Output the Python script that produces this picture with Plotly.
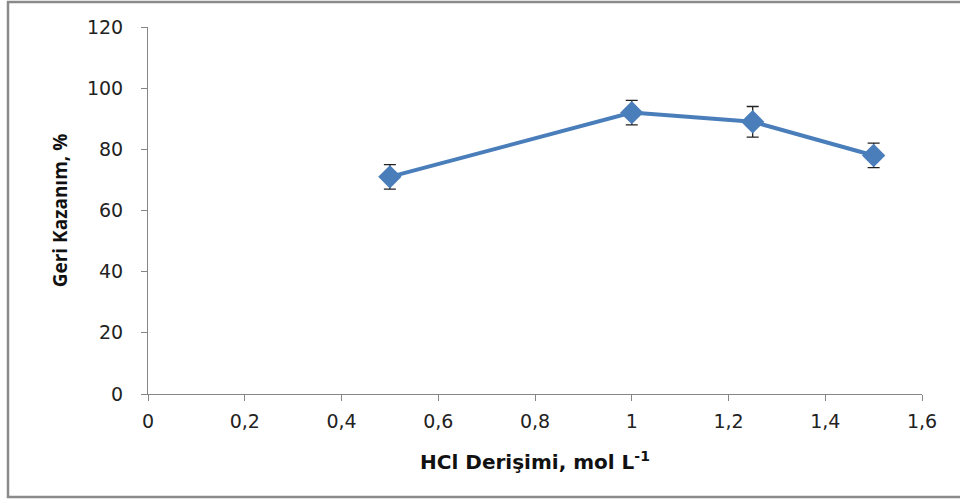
import plotly.graph_objects as go

hcl = [0.5, 1.0, 1.25, 1.5]
recovery = [71, 92, 89, 78]
err = [4, 4, 5, 4]
x_ticks = [0, 0.2, 0.4, 0.6, 0.8, 1.0, 1.2, 1.4, 1.6]
x_labels = ["0", "0,2", "0,4", "0,6", "0,8", "1", "1,2", "1,4", "1,6"]
y_ticks = [0, 20, 40, 60, 80, 100, 120]

L, R, T, B = 148, 38, 27, 110
W, H = 960, 504
pw, ph = W - L - R, H - T - B

fig = go.Figure()
fig.add_trace(go.Scatter(
    x=hcl, y=recovery, mode="lines+markers",
    line=dict(color="#4A7EBB", width=4),
    marker=dict(symbol="diamond", size=18, color="#4A7EBB"),
    error_y=dict(type="data", array=err, visible=True, color="#222222", thickness=1.3, width=6),
    showlegend=False,
))

axis_font = dict(family="DejaVu Sans", size=19, color="#222222")
fig.update_layout(
    width=W, height=H,
    margin=dict(l=L, r=R, t=T, b=B),
    paper_bgcolor="white", plot_bgcolor="white",
    xaxis=dict(range=[0, 1.6], tickvals=x_ticks, ticktext=x_labels,
               showgrid=False, zeroline=False, showline=True, linecolor="#868686", linewidth=1,
               ticks="outside", ticklen=6, tickcolor="#868686", tickfont=axis_font,
               ticklabelstandoff=4,
               title=dict(text="<b>HCl Derişimi, mol L<sup>-1</sup></b>",
                          font=dict(family="DejaVu Sans", size=20, color="#111111"), standoff=24)),
    yaxis=dict(range=[0, 120], tickvals=y_ticks,
               showgrid=False, zeroline=False, showline=True, linecolor="#868686", linewidth=1,
               ticks="outside", ticklen=6, tickcolor="#868686", tickfont=axis_font,
               ticklabelstandoff=14,
               title=dict(text="<b>Geri Kazanım, %</b>",
                          font=dict(family="Open Sans", size=19, color="#111111"), standoff=14)),
    shapes=[dict(type="rect", xref="paper", yref="paper",
                 x0=(8 - L) / pw, x1=(975 - L) / pw,
                 y0=(T + ph - 497) / ph, y1=(T + ph - 2) / ph,
                 line=dict(color="#8a8a8a", width=2.5), fillcolor="rgba(0,0,0,0)", layer="below")],
)

fig.write_html("out.html")
